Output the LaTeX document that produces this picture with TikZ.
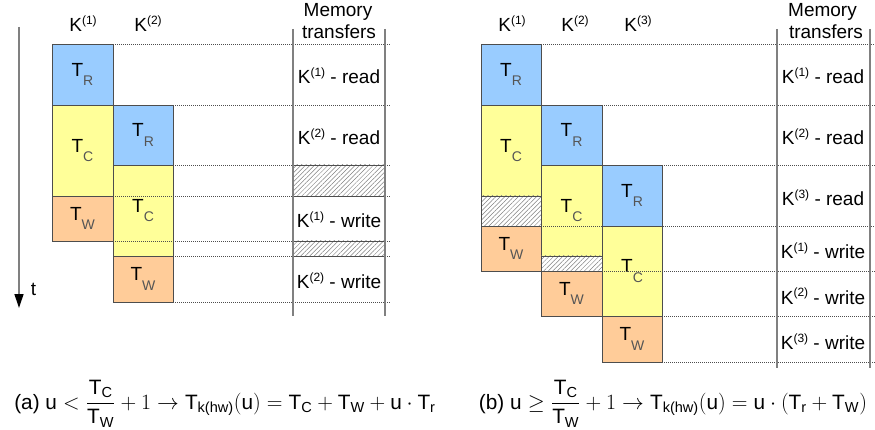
\documentclass[tikz,border=0pt]{standalone}
\usepackage{amsmath}
\usepackage{fontspec}
\newfontfamily\arial{Liberation Sans}
\usetikzlibrary{patterns.meta,arrows.meta}
\definecolor{cblue}{HTML}{99CCFF}
\definecolor{cyellow}{HTML}{FFFF99}
\definecolor{corange}{HTML}{FFCC99}
\definecolor{bordergray}{HTML}{4D4D4D}
\definecolor{subgray}{HTML}{555555}
\definecolor{linegray}{HTML}{808080}
\newcommand\Tl[1]{{\fontsize{19}{19}\selectfont T}\raisebox{-9.5pt}{\fontsize{14}{14}\selectfont\color{subgray}#1}}
\newcommand\Ksup[1]{K\raisebox{7pt}{\fontsize{12}{12}\selectfont(#1)}}
\newcommand\sv[1]{\text{\arial #1}}
\newcommand\ST[1]{\sv{T}_{\sv{#1}}}
\tikzset{
  cell/.style={draw=bordergray, line width=0.9pt, anchor=north west, inner sep=0pt, outer sep=0pt, font=\arial},
  rcell/.style={cell, fill=cblue},
  ccell/.style={cell, fill=cyellow},
  wcell/.style={cell, fill=corange},
  hcell/.style={cell, pattern={Lines[angle=45,distance=3.2pt,line width=0.5pt]}, pattern color=gray},
  dots/.style={draw=bordergray, line width=0.6pt, dash pattern=on 0.8pt off 1.2pt},
  memline/.style={draw=linegray, line width=1.3pt},
  txt/.style={font=\arial\fontsize{19}{19}\selectfont, anchor=base, inner sep=0pt},
  captext/.style={font=\arial\fontsize{16.5}{20}\selectfont, anchor=base, inner sep=0pt}
}
\begin{document}
\begin{tikzpicture}[x=1pt,y=-1pt]
\useasboundingbox (0,0) rectangle (875,430);

% ---------------- left panel ----------------
\coordinate (ta) at (19,27);
\coordinate (tb) at (19,308);
\draw[linegray, line width=1.3pt, -{Triangle[length=14pt,width=9pt,color=black]}] (ta) -- (tb);
\node[txt] (tl) at (33.5,295) {t};

\node[txt] (hK1) at (83,32) {\Ksup{1}};
\node[txt] (hK2) at (148,32) {\Ksup{2}};
\node[txt] (mA1) at (338,16.7) {Memory};
\node[txt] (mA2) at (339,39) {transfers};

\node[rcell, minimum width=61pt, minimum height=61pt] (aR1) at (52,44) {\Tl{R}};
\node[ccell, minimum width=61pt, minimum height=91pt] (aC1) at (52,105) {\Tl{C}};
\node[wcell, minimum width=61pt, minimum height=45pt] (aW1) at (52,196) {\Tl{W}};
\node[rcell, minimum width=60pt, minimum height=60pt] (aR2) at (113,105) {\Tl{R}};
\node[ccell, minimum width=60pt, minimum height=91pt] (aC2) at (113,165) {\Tl{C}};
\node[wcell, minimum width=60pt, minimum height=46pt] (aW2) at (113,256) {\Tl{W}};

\draw[dots] (113,44) -- (390,44);
\draw[dots] (173,105) -- (390,105);
\draw[dots] (173,165) -- (390,165);
\draw[dots] (113,196) -- (390,196);
\draw[dots] (113,241) -- (390,241);
\draw[dots] (173,256) -- (390,256);
\draw[dots] (173,302) -- (390,302);

\node[hcell, minimum width=92pt, minimum height=31pt] (aH1) at (293,165) {};
\node[hcell, minimum width=92pt, minimum height=15pt] (aH2) at (293,241) {};

\draw[memline] (293,29) -- (293,316);
\draw[memline] (385,29) -- (385,316);

\node[txt] (aM1) at (339,84) {\Ksup{1} - read};
\node[txt] (aM2) at (339,144.5) {\Ksup{2} - read};
\node[txt] (aM3) at (339,228) {\Ksup{1} - write};
\node[txt] (aM4) at (339,288.5) {\Ksup{2} - write};

% ---------------- right panel ----------------
\node[txt] (hB1) at (512,32) {\Ksup{1}};
\node[txt] (hB2) at (575,32) {\Ksup{2}};
\node[txt] (hB3) at (638,32) {\Ksup{3}};
\node[txt] (mB1) at (822.5,16.7) {Memory};
\node[txt] (mB2) at (826,39) {transfers};

\node[rcell, minimum width=60pt, minimum height=61pt] (bR1) at (481,44) {\Tl{R}};
\node[ccell, minimum width=60pt, minimum height=91pt] (bC1) at (481,105) {\Tl{C}};
\node[hcell, minimum width=60pt, minimum height=30pt] (bH1) at (481,196) {};
\node[wcell, minimum width=60pt, minimum height=45pt] (bW1) at (481,226) {\Tl{W}};
\node[rcell, minimum width=61pt, minimum height=60pt] (bR2) at (541,105) {\Tl{R}};
\node[ccell, minimum width=61pt, minimum height=91pt] (bC2) at (541,165) {\Tl{C}};
\node[hcell, minimum width=61pt, minimum height=15pt] (bH2) at (541,256) {};
\node[wcell, minimum width=61pt, minimum height=45pt] (bW2) at (541,271) {\Tl{W}};
\node[rcell, minimum width=60pt, minimum height=61pt] (bR3) at (602,165) {\Tl{R}};
\node[ccell, minimum width=60pt, minimum height=90pt] (bC3) at (602,226) {\Tl{C}};
\node[wcell, minimum width=60pt, minimum height=46pt] (bW3) at (602,316) {\Tl{W}};

\draw[dots] (541,44) -- (875,44);
\draw[dots] (602,105) -- (875,105);
\draw[dots] (662,165) -- (875,165);
\draw[dots] (541,226) -- (875,226);
\draw[dots] (602,271) -- (875,271);
\draw[dots] (662,316) -- (875,316);
\draw[dots] (662,362) -- (875,362);

\draw[memline] (777,29) -- (777,368);
\draw[memline] (870,29) -- (870,368);

\node[txt] (bM1) at (823,84) {\Ksup{1} - read};
\node[txt] (bM2) at (823,144.5) {\Ksup{2} - read};
\node[txt] (bM3) at (823,205.5) {\Ksup{3} - read};
\node[txt] (bM4) at (823,259) {\Ksup{1} - write};
\node[txt] (bM5) at (823,304) {\Ksup{2} - write};
\node[txt] (bM6) at (823,349.5) {\Ksup{3} - write};

% ---------------- captions ----------------
\node[captext] (capA) at (225,409) {\scalebox{1.26}{(a) $\sv{u} < \dfrac{\ST{C}}{\ST{W}} + 1 \to \ST{k(hw)}(\sv{u}) = \ST{C} + \ST{W} + \sv{u}\cdot \ST{r}$}};
\node[captext] (capB) at (673,409) {\scalebox{1.26}{(b) $\sv{u} \geq \dfrac{\ST{C}}{\ST{W}} + 1 \to \ST{k(hw)}(\sv{u}) = \sv{u}\cdot (\ST{r} + \ST{W})$}};
\end{tikzpicture}
\end{document}
